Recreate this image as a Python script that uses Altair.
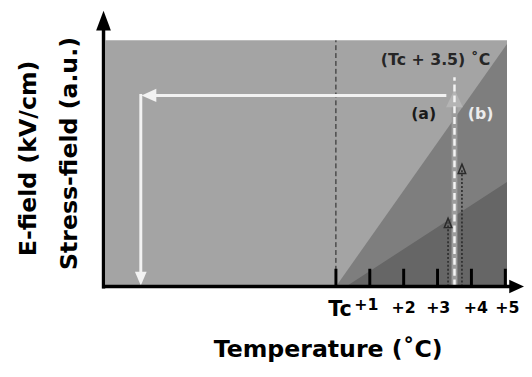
import altair as alt
import pandas as pd

# ---- data (x: temperature offset from Tc in deg C, y: field in a.u.) ----
tick_vals = [0, 1, 2, 3, 4, 5]
tick_labels = ["+1", "+2", "+3", "+4", "+5"]
tick_label_x = [0.9, 2.0, 3.02, 4.13, 5.06]

box_x = [-6.8, 5.05]          # grey phase-diagram box
box_y = [0.0, 10.0]

upper_bound_x = [0.0, 5.05]   # boundary of the medium region
upper_bound_y = [0.0, 9.85]
lower_bound_x = [0.3, 5.05]   # boundary of the dark region
lower_bound_y = [0.0, 4.24]

t_mark = 3.5                   # (Tc + 3.5) C
path_y = 7.76                  # field level of the white path
path_left_x = -5.76
dotted_x = [3.31, 3.72]
dotted_top = [2.8, 5.0]

xs = alt.Scale(domain=[-9.680, 5.552], nice=False, zero=False)
ys = alt.Scale(domain=[-3.24, 11.2], nice=False, zero=False)
FONT = "DejaVu Sans"


def X(f="x"):
    return alt.X(f"{f}:Q", scale=xs, axis=None)


def Y(f="y"):
    return alt.Y(f"{f}:Q", scale=ys, axis=None)


# background box
bg = alt.Chart(pd.DataFrame({"x": [box_x[0]], "x2": [box_x[1]], "y": [box_y[0]], "y2": [box_y[1]]})).mark_rect(
    color="#a4a4a4"
).encode(x=X("x"), x2="x2:Q", y=Y("y"), y2="y2:Q")

medium = alt.Chart(pd.DataFrame({"x": upper_bound_x, "y": upper_bound_y, "b": [0, 0]})).mark_area(
    color="#7e7e7e", opacity=1
).encode(x=X("x"), y=Y("y"), y2="b:Q")

dark = alt.Chart(pd.DataFrame({"x": lower_bound_x, "y": lower_bound_y, "b": [0, 0]})).mark_area(
    color="#666666", opacity=1
).encode(x=X("x"), y=Y("y"), y2="b:Q")

# Tc dashed line
tc_line = alt.Chart(pd.DataFrame({"x": [0.0], "y": [0.0], "y2": [10.0]})).mark_rule(
    color="#1e1e1e", strokeWidth=1, strokeDash=[5, 3]
).encode(x=X("x"), y=Y("y"), y2="y2:Q")

# ticks
ticks = alt.Chart(pd.DataFrame({"x": tick_vals, "y": [0.0] * 6, "y2": [0.72] * 6})).mark_rule(
    color="black", strokeWidth=3
).encode(x=X("x"), y=Y("y"), y2="y2:Q")

# axes
yaxis = alt.Chart(pd.DataFrame({"x": [-6.86], "y": [-0.08], "y2": [10.5]})).mark_rule(
    color="black", strokeWidth=3.5
).encode(x=X("x"), y=Y("y"), y2="y2:Q")
xaxis = alt.Chart(pd.DataFrame({"x": [-6.9], "x2": [5.2], "y": [0.0]})).mark_rule(
    color="black", strokeWidth=3.5
).encode(x=X("x"), x2="x2:Q", y=Y("y"))
yhead = alt.Chart(pd.DataFrame({"x": [-6.86], "y": [10.8]})).mark_point(
    shape="M0,-1L0.75,1L-0.75,1Z", filled=True, size=400, color="black", opacity=1
).encode(x=X("x"), y=Y("y"))
xhead = alt.Chart(pd.DataFrame({"x": [5.334], "y": [0.0]})).mark_point(
    shape="M1,0L-1,0.9L-1,-0.9Z", filled=True, size=225, color="black", opacity=1
).encode(x=X("x"), y=Y("y"))

# gray arrow (a) going up at Tc+3.5
gshaft = alt.Chart(pd.DataFrame({"x": [t_mark], "y": [0.0], "y2": [7.4]})).mark_rule(
    color="#9c9c9c", strokeWidth=6
).encode(x=X("x"), y=Y("y"), y2="y2:Q")
ghead = alt.Chart(pd.DataFrame({"x": [t_mark], "y": [7.64]})).mark_point(
    shape="M0,-1L0.95,1L-0.95,1Z", filled=True, size=324, color="#b4b4b4", opacity=1
).encode(x=X("x"), y=Y("y"))

# white dashed line at Tc+3.5
wdash = alt.Chart(pd.DataFrame({"x": [t_mark], "y": [0.0], "y2": [8.5]})).mark_rule(
    color="#f4f4f4", strokeWidth=2.5, strokeDash=[7, 4]
).encode(x=X("x"), y=Y("y"), y2="y2:Q")

# dotted dark arrows
dots = alt.Chart(pd.DataFrame({"x": dotted_x, "y": [0.0, 0.0], "y2": [t - 0.2 for t in dotted_top]})).mark_rule(
    color="#2a2a2a", strokeWidth=1.6, strokeDash=[2, 2]
).encode(x=X("x"), y=Y("y"), y2="y2:Q")
dheads = alt.Chart(pd.DataFrame({"x": dotted_x, "y": [t - 0.22 for t in dotted_top]})).mark_point(
    shape="M0,-1L0.8,1L-0.8,1Z", filled=False, size=90, color="#2a2a2a", strokeWidth=1.5, opacity=1
).encode(x=X("x"), y=Y("y"))

# white path: left then down
wh = alt.Chart(pd.DataFrame({"x": [3.26], "x2": [path_left_x + 0.3], "y": [path_y]})).mark_rule(
    color="#f2f2f2", strokeWidth=3
).encode(x=X("x"), x2="x2:Q", y=Y("y"))
whead_l = alt.Chart(pd.DataFrame({"x": [path_left_x + 0.24], "y": [path_y]})).mark_point(
    shape="M-1,0L1,-0.9L1,0.9Z", filled=True, size=225, color="#f2f2f2", opacity=1
).encode(x=X("x"), y=Y("y"))
wv = alt.Chart(pd.DataFrame({"x": [path_left_x], "y": [path_y + 0.06], "y2": [0.4]})).mark_rule(
    color="#f2f2f2", strokeWidth=3
).encode(x=X("x"), y=Y("y"), y2="y2:Q")
whead_d = alt.Chart(pd.DataFrame({"x": [path_left_x], "y": [0.32]})).mark_point(
    shape="M0,1L-0.85,-1L0.85,-1Z", filled=True, size=196, color="#f2f2f2", opacity=1
).encode(x=X("x"), y=Y("y"))


def text_layer(xv, yv, txt, size, color="black", align="center", baseline="alphabetic", angle=0):
    df = pd.DataFrame({"x": xv, "y": yv, "t": txt})
    kw = dict(font=FONT, fontWeight="bold", fontSize=size, color=color, align=align, baseline=baseline)
    if angle:
        kw["angle"] = angle
    return alt.Chart(df).mark_text(**kw).encode(x=X("x"), y=Y("y"), text="t:N")


txt_tc = text_layer([-0.23], [-1.2], ["Tc"], 21, align="left")
txt_ticks = text_layer(tick_label_x, [-0.96] + [-1.08] * 4, tick_labels, 16)
txt_temp = text_layer([-0.23], [-2.88], ["Temperature (˚C)"], 24)
txt_e = text_layer([-9.07], [5.2], ["E-field (kV/cm)"], 24, baseline="middle", angle=270)
txt_s = text_layer([-7.85], [5.4], ["Stress-field (a.u.)"], 24, baseline="middle", angle=270)
txt_t35 = text_layer([2.94], [9.0], ["(Tc + 3.5) ˚C"], 16, color="#262626")
txt_a = text_layer([2.59], [6.8], ["(a)"], 16, color="#1a1a1a")
txt_b = text_layer([4.27], [6.8], ["(b)"], 16, color="#ececec")

chart = alt.layer(
    bg, medium, dark, tc_line, ticks, gshaft, ghead, wdash, dots, dheads,
    wh, whead_l, wv, whead_d, yaxis, xaxis, yhead, xhead,
    txt_tc, txt_ticks, txt_temp, txt_e, txt_s, txt_t35, txt_a, txt_b,
).properties(
    width=524, height=361, padding=0, autosize=alt.AutoSizeParams(type="none"), background="white"
).configure_view(strokeWidth=0)

chart.save("out.html", embed_options={"renderer": "svg", "actions": False})
